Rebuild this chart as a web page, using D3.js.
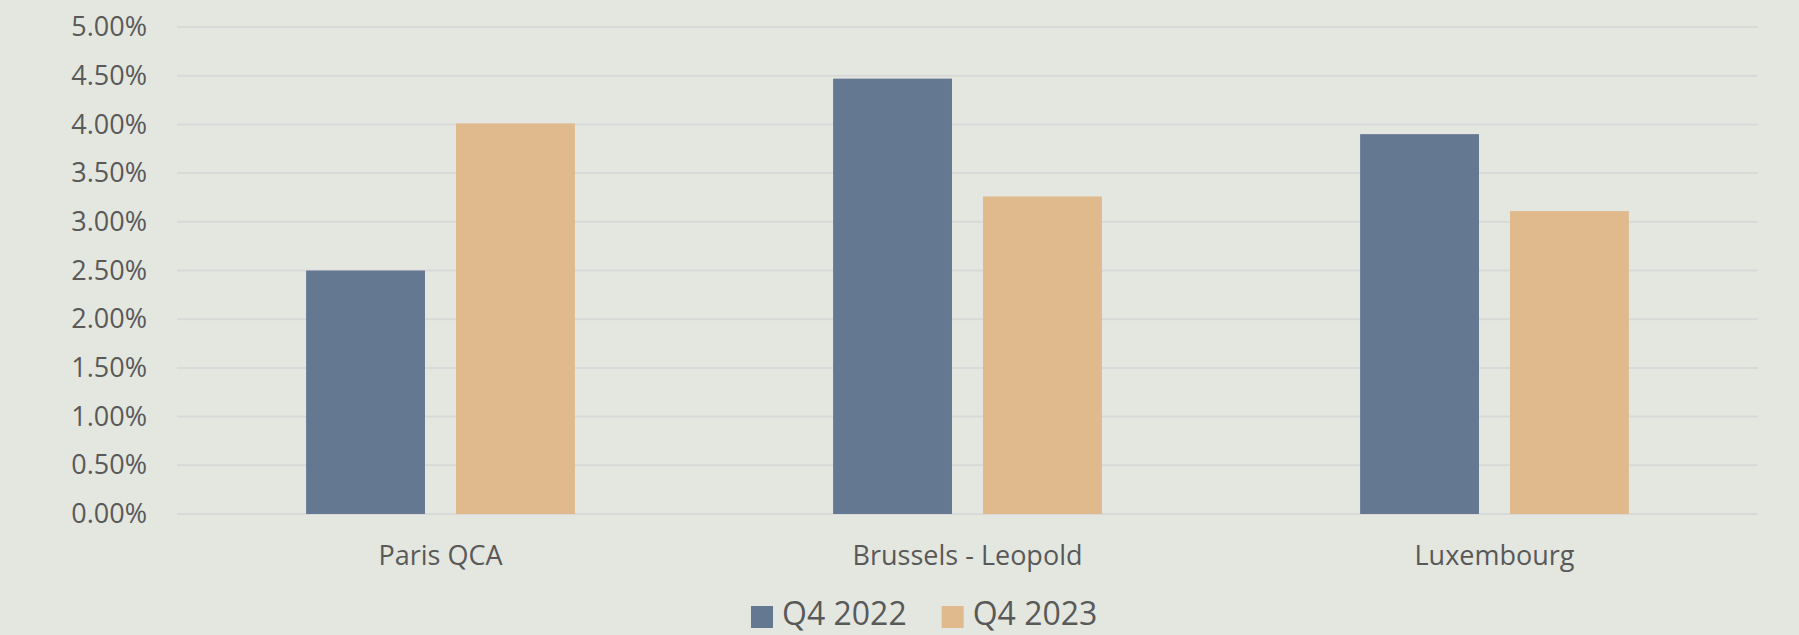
<!DOCTYPE html>
<head>
<meta charset="utf-8">
<title>Yields</title>
<script src="https://d3js.org/d3.v7.min.js"></script>
<style>
	body { margin:0; background:#e4e7e0; }
	.chart text { font-family:"Open Sans", sans-serif; fill:#595959; }
	.grid line { stroke:#d9d9d9; stroke-width:2px; }
</style>
</head>
<body>
<div class="chart"></div>
<script>
// data
var categories = ["Paris QCA", "Brussels - Leopold", "Luxembourg"];
var seriesNames = ["Q4 2022", "Q4 2023"];
var q4_2022 = [2.50, 4.47, 3.90];
var q4_2023 = [4.01, 3.26, 3.11];
var yTicks = [0, 0.5, 1, 1.5, 2, 2.5, 3, 3.5, 4, 4.5, 5];
var colors = ["#647892", "#e0ba8c"];

var totalWidth = 1799, totalHeight = 635;
var margin = {top: 27, right: 41, bottom: 121, left: 177};
var width = totalWidth - margin.left - margin.right,
	height = totalHeight - margin.top - margin.bottom;

var svg = d3.select(".chart").append("svg")
	.attr("width", totalWidth)
	.attr("height", totalHeight);

var g = svg.append("g")
	.attr("transform", "translate(" + margin.left + "," + margin.top + ")");

var x0 = d3.scaleBand().domain(categories).range([0, width])
	.paddingInner(0.49).paddingOuter(0.245);
var x1 = d3.scaleBand().domain(seriesNames).range([0, x0.bandwidth()]).paddingInner(0.207);
var y = d3.scaleLinear().domain([0, 5]).range([height, 0]);

// gridlines
g.append("g").attr("class", "grid")
	.selectAll("line").data(yTicks).enter().append("line")
	.attr("x1", 0).attr("x2", width)
	.attr("y1", function(d) { return y(d); })
	.attr("y2", function(d) { return y(d); });

// y labels
var yAxis = d3.axisLeft(y).tickValues(yTicks).tickSize(0).tickPadding(30)
	.tickFormat(function(d) { return d.toFixed(2) + "%"; });
g.append("g").call(yAxis)
	.call(function(s) { s.select(".domain").remove(); })
	.selectAll("text").style("font-size", "27px");

// bars
var rows = categories.map(function(c, i) {
	return {cat: c, vals: [q4_2022[i], q4_2023[i]]};
});
var groups = g.selectAll(".grp").data(rows).enter().append("g")
	.attr("class", "grp")
	.attr("transform", function(d) { return "translate(" + x0(d.cat) + ",0)"; });
groups.selectAll("rect").data(function(d) {
		return d.vals.map(function(v, j) { return {s: seriesNames[j], v: v, j: j}; });
	}).enter().append("rect")
	.attr("x", function(d) { return x1(d.s); })
	.attr("width", x1.bandwidth())
	.attr("y", function(d) { return y(d.v); })
	.attr("height", function(d) { return height - y(d.v); })
	.attr("fill", function(d) { return colors[d.j]; });

// x labels
var xAxis = d3.axisBottom(x0).tickSize(0).tickPadding(32);
g.append("g").attr("transform", "translate(0," + height + ")").call(xAxis)
	.call(function(s) { s.select(".domain").remove(); })
	.selectAll("text").style("font-size", "27px");

// legend
var legend = svg.append("g").attr("transform", "translate(751,0)");
var lx = 0;
seriesNames.forEach(function(n, i) {
	legend.append("rect").attr("x", lx).attr("y", 606).attr("width", 22).attr("height", 22)
		.attr("fill", colors[i]);
	var t = legend.append("text").attr("x", lx + 31).attr("y", 625)
		.style("font-size", "32px").text(n);
	lx += 31 + t.node().getComputedTextLength() + 35;
});
</script>
</body>
</html>
